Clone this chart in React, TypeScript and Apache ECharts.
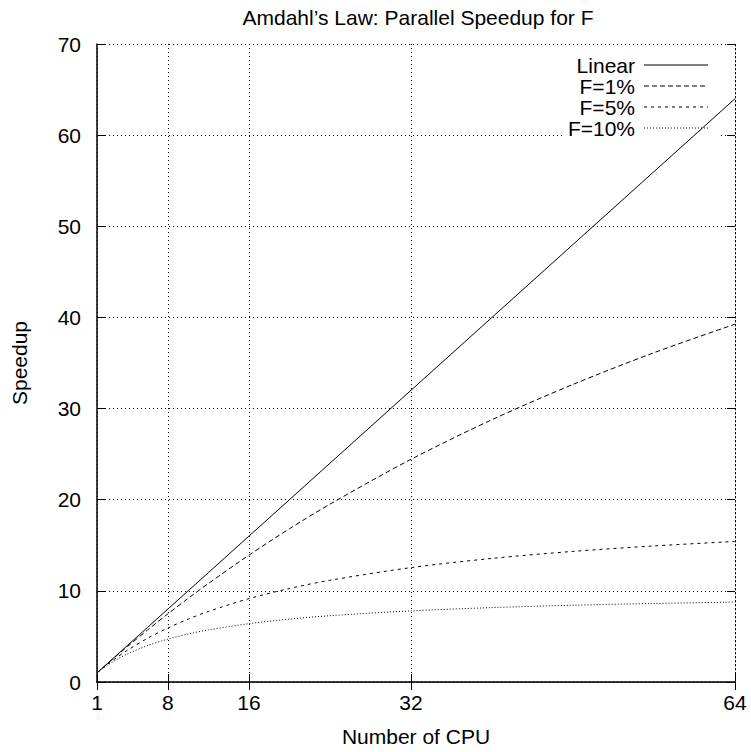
import React, { useEffect, useRef } from "react";
import * as echarts from "echarts";

const cpus = [1, 2, 3, 4, 6, 8, 10, 12, 16, 20, 24, 32, 40, 48, 56, 64];
const linear = [1, 2, 3, 4, 6, 8, 10, 12, 16, 20, 24, 32, 40, 48, 56, 64];
const f1 = [1, 1.98, 2.941, 3.883, 5.714, 7.477, 9.174, 10.81, 13.91, 16.81, 19.51, 24.43, 28.78, 32.65, 36.13, 39.26];
const f5 = [1, 1.905, 2.727, 3.478, 4.8, 5.926, 6.897, 7.742, 9.143, 10.26, 11.16, 12.55, 13.56, 14.33, 14.93, 15.42];
const f10 = [1, 1.818, 2.5, 3.077, 4.0, 4.706, 5.263, 5.714, 6.4, 6.897, 7.273, 7.805, 8.163, 8.421, 8.615, 8.767];
const xTicks = [1, 8, 16, 32, 64];
const seriesNames = ["Linear", "F=1%", "F=5%", "F=10%"];
const titleText = "Amdahl\u2019s Law: Parallel Speedup for F";

const FONT = "Liberation Sans, Arial, Helvetica, sans-serif";
const FS = 21;
const dashes: any[] = ["solid", [5, 3], [3, 4], [1, 2]];

export default function App() {
  const ref = useRef<HTMLDivElement>(null);
  useEffect(() => {
    const chart = echarts.init(ref.current!, null, { renderer: "svg" });
    const values = [linear, f1, f5, f10];
    const series = values.map((v, i) => ({
      name: seriesNames[i],
      type: "line",
      data: cpus.map((c, j) => [c, v[j]]),
      showSymbol: false,
      smooth: i === 0 ? false : 0.3,
      lineStyle: { color: "#000", width: 1, type: dashes[i] },
      z: 5,
    }));
    const gridLine = { show: true, lineStyle: { color: "#000", width: 1, type: [1, 3] } };
    const legendGraphics: any[] = [
      {
        type: "rect",
        shape: { x: 562, y: 54, width: 158, height: 86 },
        style: { fill: "#fff" },
        z: 1,
      },
    ];
    seriesNames.forEach((n, i) => {
      const y = 65 + i * 21;
      legendGraphics.push({
        type: "text",
        x: 635,
        y,
        style: { text: n, font: `${FS}px ${FONT}`, fill: "#000", textAlign: "right", textVerticalAlign: "middle" },
        z: 20,
      });
      legendGraphics.push({
        type: "line",
        shape: { x1: 644, y1: y, x2: 708, y2: y },
        style: { stroke: "#000", lineWidth: 1, lineDash: dashes[i] === "solid" ? null : dashes[i] },
        z: 20,
      });
    });
    chart.setOption({
      animation: false,
      backgroundColor: "#fff",
      title: {
        text: titleText,
        left: 413,
        top: 2,
        textAlign: "center",
        textStyle: { fontFamily: FONT, fontSize: FS, fontWeight: "normal", color: "#000" },
      },
      grid: { left: 97, right: 16, top: 44, bottom: 67 },
      xAxis: [
        {
          type: "value",
          min: 1,
          max: 64,
          name: "Number of CPU",
          nameLocation: "middle",
          nameGap: 44,
          nameTextStyle: { fontFamily: FONT, fontSize: FS, color: "#000" },
          axisLine: { show: true, lineStyle: { color: "#000", width: 1.5 } },
          axisTick: { show: true, inside: true, length: 8, customValues: xTicks, lineStyle: { color: "#000" } },
          axisLabel: { customValues: xTicks, fontFamily: FONT, fontSize: FS, color: "#000", margin: 10 },
          splitLine: gridLine,
        },
        {
          type: "value",
          position: "top",
          min: 1,
          max: 64,
          axisLine: { show: true, lineStyle: { color: "#000", width: 1, type: [1, 3] } },
          axisTick: { show: true, inside: true, length: 8, customValues: xTicks, lineStyle: { color: "#000" } },
          axisLabel: { show: false, customValues: xTicks },
          splitLine: { show: false },
        },
      ],
      yAxis: [
        {
          type: "value",
          min: 0,
          max: 70,
          interval: 10,
          name: "Speedup",
          nameLocation: "middle",
          nameGap: 67,
          nameTextStyle: { fontFamily: FONT, fontSize: FS, color: "#000" },
          axisLine: { show: true, lineStyle: { color: "#000", width: 1.5 } },
          axisTick: { show: true, inside: true, length: 8, lineStyle: { color: "#000" } },
          axisLabel: { fontFamily: FONT, fontSize: FS, color: "#000", margin: 16 },
          splitLine: gridLine,
        },
        {
          type: "value",
          position: "right",
          min: 0,
          max: 70,
          interval: 10,
          axisLine: { show: true, lineStyle: { color: "#000", width: 1, type: [1, 3] } },
          axisTick: { show: true, inside: true, length: 8, lineStyle: { color: "#000" } },
          axisLabel: { show: false },
          splitLine: { show: false },
        },
      ],
      series,
      graphic: legendGraphics,
    });
    return () => chart.dispose();
  }, []);
  return <div ref={ref} style={{ width: 751, height: 752, position: "absolute", left: 0, top: 0 }} />;
}
